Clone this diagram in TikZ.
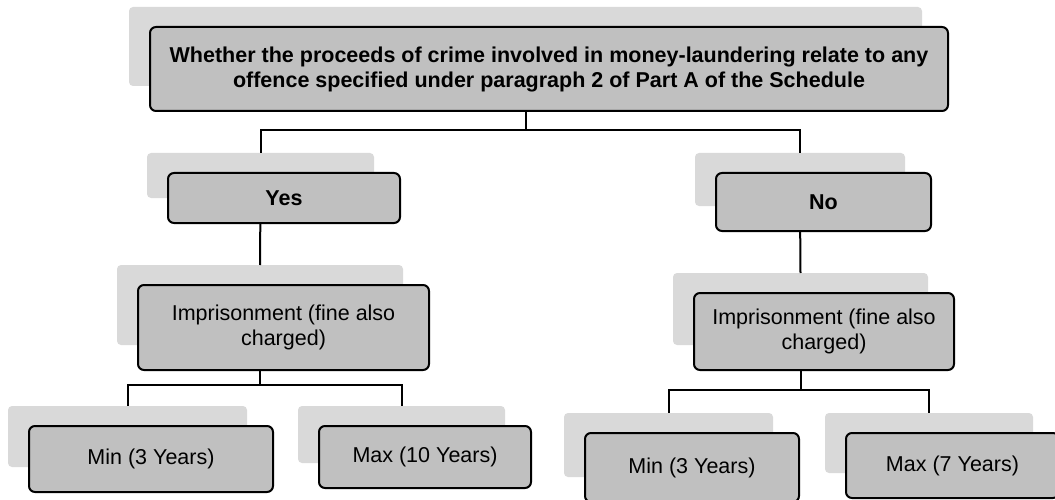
\documentclass[tikz,border=0pt]{standalone}
\usepackage{fontspec}
\setmainfont{Liberation Sans}
\usetikzlibrary{calc,fit}
\definecolor{backgray}{HTML}{D9D9D9}
\definecolor{frontgray}{HTML}{C0C0C0}
\begin{document}
\begin{tikzpicture}[x=1pt,y=-1pt,
  backbox/.style={fill=backgray, rounded corners=4pt, inner sep=0pt, outer sep=0pt},
  frontbox/.style={draw=black, line width=2pt, fill=frontgray, rounded corners=6pt, inner sep=0pt},
  boxtext/.style={align=center, inner sep=0pt, font=\fontsize{21.5}{25}\selectfont},
  link/.style={draw=black, line width=2pt}]
\useasboundingbox (0,0) rectangle (1055,500);

% back tiles of the hierarchy
\node[backbox, minimum width=793pt, minimum height=79pt] (top)  at (525.5,46.5) {};
\node[backbox, minimum width=227pt, minimum height=45pt] (yes)  at (260.5,175.5) {};
\node[backbox, minimum width=210pt, minimum height=53pt] (no)   at (800,179.5) {};
\node[backbox, minimum width=286pt, minimum height=80pt] (limp) at (260,305) {};
\node[backbox, minimum width=255pt, minimum height=72pt] (rimp) at (800.5,309) {};
\node[backbox, minimum width=239pt, minimum height=61pt] (lmin) at (127.5,436.5) {};
\node[backbox, minimum width=207pt, minimum height=57pt] (lmax) at (401.5,434.5) {};
\node[backbox, minimum width=209pt, minimum height=64pt] (rmin) at (668.5,445) {};
\node[backbox, minimum width=208pt, minimum height=60pt] (rmax) at (929,443) {};

% bus levels of the elbow connectors
\coordinate (bustop) at (0,130);
\coordinate (busleft) at (0,385);
\coordinate (busright) at (0,390);

% connectors
\draw[link] (top.south) -- (top.south |- bustop) -| (yes.north);
\draw[link] (top.south |- bustop) -| (no.north);
\draw[link] (yes.south) -- (limp.north);
\draw[link] (no.south) -- (rimp.north);
\draw[link] (limp.south) -- (limp.south |- busleft) -| (lmin.north);
\draw[link] (limp.south |- busleft) -| (lmax.north);
\draw[link] (rimp.south) -- (rimp.south |- busright) -| (rmin.north);
\draw[link] (rimp.south |- busright) -| (rmax.north);

% front boxes with the texts
\foreach \n/\t in {
  top/{\textbf{Whether the proceeds of crime involved in money-laundering relate to any}\\\textbf{offence specified under paragraph 2 of Part A of the Schedule}},
  yes/{\textbf{Yes}},
  no/{\textbf{No}},
  limp/{Imprisonment (fine also\\charged)},
  rimp/{Imprisonment (fine also\\charged)},
  lmin/{Min (3 Years)},
  lmax/{Max (10 Years)},
  rmin/{Min (3 Years)},
  rmax/{Max (7 Years)}}
{
  \node[frontbox, fit={($(\n.north west)+(21,20)$) ($(\n.south east)+(26,25)$)}] (\n-f) {};
  \node[boxtext] (\n-t) at (\n-f.center) {\t};
}

\end{tikzpicture}
\end{document}
